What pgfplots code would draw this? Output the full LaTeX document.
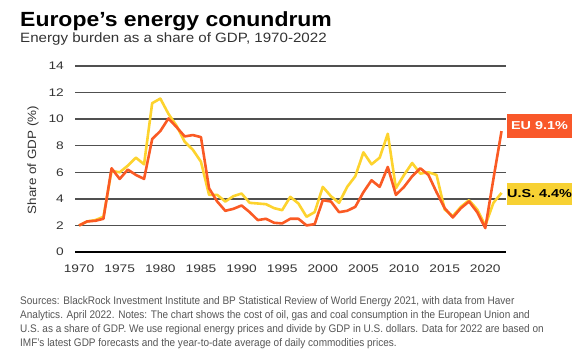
\documentclass[border=0pt]{standalone}
\usepackage{pgfplots}
\pgfplotsset{compat=1.18}
\usepackage{fontspec}
\setmainfont{Liberation Sans}
\newfontfamily\titlefont[FakeStretch=1.12]{Liberation Sans}
\newfontfamily\tickfont[FakeStretch=1.25]{Liberation Sans}
\newfontfamily\labelfont[FakeStretch=1.12]{Liberation Sans}
\newfontfamily\notefont[FakeStretch=0.91]{Liberation Sans}
\definecolor{eured}{HTML}{FA5A24}
\definecolor{usyel}{HTML}{FDD32E}
\definecolor{boxred}{HTML}{F9582A}
\definecolor{boxyel}{HTML}{F7D133}
\definecolor{gridc}{HTML}{505050}
\definecolor{txt}{HTML}{333333}
\definecolor{notec}{HTML}{555555}
\begin{document}
\begin{tikzpicture}[x=1pt,y=1pt]
\path (0,0) rectangle (580,363);
\node[anchor=base west, inner sep=0pt] at (20,336) {\titlefont\fontsize{20.5}{24}\selectfont\bfseries Europe’s energy conundrum};
\node[anchor=base west, inner sep=0pt, text=txt] at (20,320) {\titlefont\fontsize{13.5}{16}\selectfont Energy burden as a share of GDP, 1970-2022};
\begin{axis}[
  at={(75pt,111pt)}, anchor=south west,
  scale only axis, width=431pt, height=186pt,
  xmin=1969.5, xmax=2022.55, ymin=0, ymax=14,
  xtick={1970,1975,...,2020}, ytick={0,2,...,14},
  axis line style={draw=none}, tick style={draw=none},
  ymajorgrids, grid style={gridc, line width=1.5pt},
  /pgf/number format/assume math mode=true,
  xticklabel={\pgfmathprintnumber[1000 sep={}]{\tick}},
  xticklabel style={font=\tickfont\fontsize{11}{13}\selectfont, text=txt, anchor=north, inner sep=0pt, yshift=-13pt},
  yticklabel style={font=\tickfont\fontsize{11}{13}\selectfont, text=txt, anchor=east, inner sep=0pt, xshift=-11pt},
  clip=false,
]
\draw[black, line width=2pt] (axis cs:1969.5,0) -- (axis cs:2022.55,0);
\addplot[usyel, line width=2.6pt, line join=round] coordinates {
(1970,2.0)(1971,2.3)(1972,2.4)(1973,2.65)(1974,6.1)(1975,6.0)(1976,6.5)(1977,7.1)(1978,6.6)(1979,11.2)
(1980,11.55)(1981,10.4)(1982,9.5)(1983,8.3)(1984,7.7)(1985,6.8)(1986,4.3)(1987,4.3)(1988,3.8)(1989,4.2)
(1990,4.4)(1991,3.7)(1992,3.65)(1993,3.6)(1994,3.3)(1995,3.15)(1996,4.15)(1997,3.65)(1998,2.65)(1999,3.0)
(2000,4.9)(2001,4.2)(2002,3.7)(2003,4.9)(2004,5.7)(2005,7.5)(2006,6.6)(2007,7.1)(2008,8.9)(2009,4.8)
(2010,5.8)(2011,6.7)(2012,5.9)(2013,6.0)(2014,5.8)(2015,3.2)(2016,2.7)(2017,3.4)(2018,3.9)(2019,3.2)
(2020,2.0)(2021,3.7)(2022,4.45)};
\addplot[eured, line width=2.6pt, line join=round] coordinates {
(1970,2.0)(1971,2.3)(1972,2.35)(1973,2.5)(1974,6.3)(1975,5.5)(1976,6.2)(1977,5.8)(1978,5.5)(1979,8.5)
(1980,9.1)(1981,10.05)(1982,9.4)(1983,8.7)(1984,8.8)(1985,8.65)(1986,4.8)(1987,3.8)(1988,3.1)(1989,3.25)
(1990,3.5)(1991,3.0)(1992,2.4)(1993,2.5)(1994,2.2)(1995,2.15)(1996,2.5)(1997,2.5)(1998,2.0)(1999,2.1)
(2000,3.9)(2001,3.8)(2002,3.0)(2003,3.1)(2004,3.4)(2005,4.5)(2006,5.4)(2007,4.9)(2008,6.4)(2009,4.3)
(2010,4.9)(2011,5.7)(2012,6.3)(2013,5.8)(2014,4.5)(2015,3.3)(2016,2.6)(2017,3.3)(2018,3.8)(2019,3.0)
(2020,1.8)(2021,5.5)(2022,9.1)};
\end{axis}
\node[rotate=90, text=txt, inner sep=0pt] at (33,203) {\labelfont\fontsize{12}{14}\selectfont Share of GDP (\%)};
\fill[boxred] (507,225) rectangle (572,249);
\node[text=white, inner sep=0pt] at (539.5,237) {\tickfont\fontsize{11.5}{13}\selectfont\bfseries EU 9.1\%};
\fill[boxyel] (507,158) rectangle (572,180);
\node[text=black, inner sep=0pt] at (539.5,169) {\tickfont\fontsize{11.5}{13}\selectfont\bfseries U.S. 4.4\%};
\begin{scope}[every node/.style={anchor=base west, inner sep=0pt, text=notec}]
\node at (20,58) {\notefont\fontsize{11}{12}\selectfont Sources: BlackRock Investment Institute and BP Statistical Review of World Energy 2021, with data from Haver};
\node at (20,44) {\notefont\fontsize{11}{12}\selectfont Analytics. April 2022. Notes: The chart shows the cost of oil, gas and coal consumption in the European Union and};
\node at (20,30) {\notefont\fontsize{11}{12}\selectfont U.S. as a share of GDP. We use regional energy prices and divide by GDP in U.S. dollars. Data for 2022 are based on};
\node at (20,16) {\notefont\fontsize{11}{12}\selectfont IMF’s latest GDP forecasts and the year-to-date average of daily commodities prices.};
\end{scope}
\end{tikzpicture}
\end{document}
